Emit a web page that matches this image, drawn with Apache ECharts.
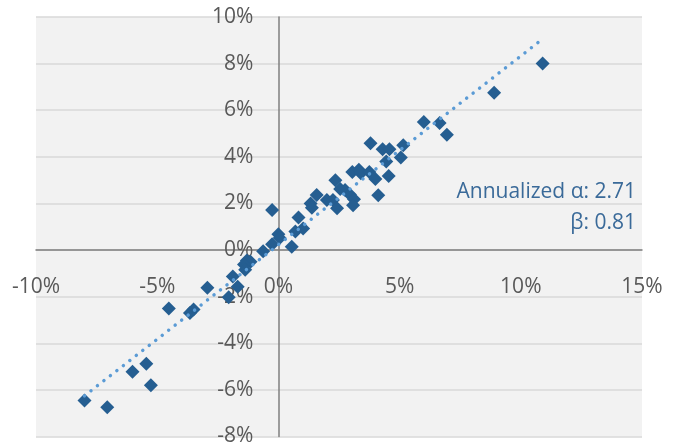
<!DOCTYPE html>
<html>
<head>
<meta charset="utf-8">
<style>
  html, body { margin: 0; padding: 0; background: #ffffff; }
  #chart { width: 677px; height: 447px; }
</style>
<script src="https://cdn.jsdelivr.net/npm/echarts@6/dist/echarts.min.js"></script>
</head>
<body>
<div id="chart"></div>
<script>
// Monthly returns (%): benchmark on x, fund on y
const benchmarkReturns = [
  10.9, 8.9, 6.0, 6.65, 6.95, 3.8, 4.3, 4.58, 5.15, 4.45,
  5.05, 4.55, 4.12, 2.35, 3.05, 3.32, 3.4, 3.75, 4.0, 1.58,
  1.33, 1.38, 2.0, 2.25, 2.42, 2.55, 2.75, 2.95, 3.12, 3.08,
  -0.26, 0.83, 0.7, 1.02, 0.0, 0.05, -0.26, 0.55, -0.63, -1.3,
  -1.15, -1.42, -1.37, -1.88, -1.68, -2.05, -2.93, -3.5, -3.65, -4.52,
  -5.45, -6.02, -5.26, -8.0, -7.06
];
const fundReturns = [
  8.0, 6.75, 5.5, 5.45, 4.95, 4.58, 4.33, 4.33, 4.5, 3.8,
  3.97, 3.18, 2.35, 3.0, 3.35, 3.45, 3.3, 3.35, 3.05, 2.36,
  2.0, 1.82, 2.15, 2.15, 1.79, 2.62, 2.58, 2.38, 2.18, 1.92,
  1.72, 1.4, 0.8, 0.93, 0.68, 0.52, 0.25, 0.14, -0.05, -0.45,
  -0.5, -0.62, -0.85, -1.13, -1.57, -2.03, -1.62, -2.55, -2.7, -2.51,
  -4.88, -5.22, -5.8, -6.45, -6.75
];

// Regression statistics shown in the annotation
const annualizedAlpha = 2.71;
const beta = 0.81;

// Axis tick settings
const xTicks = { min: -10, max: 15, step: 5 };
const yTicks = { min: -8, max: 10, step: 2 };

const points = benchmarkReturns.map((x, i) => [x, fundReturns[i]]);

// Fitted line across the range of benchmark returns
const monthlyAlpha = annualizedAlpha / 12;
const xLo = Math.min(...benchmarkReturns);
const xHi = Math.max(...benchmarkReturns);
const fitLine = [
  [xLo, monthlyAlpha + beta * xLo],
  [xHi, monthlyAlpha + beta * xHi]
];

// Plot box in pixels
const W = 677, H = 447;
const box = { left: 36, right: 35, top: 17, bottom: 10.5 };
const plotW = W - box.left - box.right;
const plotH = H - box.top - box.bottom;
// Where the zero lines fall inside the plot box
const zeroX = box.left + plotW * (0 - xTicks.min) / (xTicks.max - xTicks.min);
const zeroY = box.top + plotH * (yTicks.max - 0) / (yTicks.max - yTicks.min);

const labelFont = '"Open Sans", "Noto Sans", sans-serif';
const labelStyle = { formatter: '{value}%', color: '#595959', fontSize: 21, fontFamily: labelFont };

const chart = echarts.init(document.getElementById('chart'), null, { renderer: 'canvas' });

chart.setOption({
  animation: false,
  backgroundColor: '#ffffff',
  grid: {
    left: box.left, right: box.right, top: box.top, bottom: box.bottom,
    containLabel: false, outerBoundsMode: 'none',
    show: true, backgroundColor: '#F2F2F2', borderWidth: 0
  },
  xAxis: [
    {
      type: 'value',
      min: xTicks.min, max: xTicks.max, interval: xTicks.step,
      axisLine: { onZero: true, lineStyle: { color: '#7F7F7F', width: 1.5 } },
      axisTick: { show: false },
      splitLine: { show: false },
      axisLabel: { show: false }
    },
    {
      // tick labels hung just below the horizontal zero line
      type: 'value', position: 'bottom',
      offset: -(H - box.bottom - zeroY),
      min: xTicks.min, max: xTicks.max, interval: xTicks.step,
      axisLine: { show: false, onZero: false },
      axisTick: { show: false },
      splitLine: { show: false },
      axisLabel: Object.assign({ margin: 26 }, labelStyle)
    }
  ],
  yAxis: [
    {
      type: 'value',
      min: yTicks.min, max: yTicks.max, interval: yTicks.step,
      axisLine: { onZero: true, lineStyle: { color: '#7F7F7F', width: 1.5 } },
      axisTick: { show: false },
      splitLine: { show: true, lineStyle: { color: '#D9D9D9', width: 1.5 } },
      axisLabel: { show: false }
    },
    {
      // tick labels to the left of the vertical zero line
      type: 'value', position: 'left',
      offset: -(zeroX - box.left),
      min: yTicks.min, max: yTicks.max, interval: yTicks.step,
      axisLine: { show: false, onZero: false },
      axisTick: { show: false },
      splitLine: { show: false },
      axisLabel: Object.assign({ margin: 25 }, labelStyle)
    }
  ],
  series: [
    {
      name: 'Returns',
      type: 'scatter',
      data: points,
      symbol: 'diamond',
      symbolSize: 14,
      itemStyle: { color: '#255E91', opacity: 1 },
      z: 3
    },
    {
      name: 'Trend',
      type: 'line',
      data: fitLine,
      showSymbol: false,
      symbol: 'none',
      lineStyle: { color: '#5B9BD5', width: 3.5, type: [0.01, 8.2], cap: 'round' },
      z: 4
    }
  ],
  graphic: [
    {
      type: 'text',
      right: 41, top: 182,
      style: {
        text: 'Annualized \u03B1: ' + annualizedAlpha.toFixed(2),
        fill: '#3A6A99', fontSize: 21, fontFamily: labelFont, align: 'right'
      }
    },
    {
      type: 'text',
      right: 41, top: 213,
      style: {
        text: '\u03B2: ' + beta.toFixed(2),
        fill: '#3A6A99', fontSize: 21, fontFamily: labelFont, align: 'right'
      }
    }
  ]
});
</script>
</body>
</html>
